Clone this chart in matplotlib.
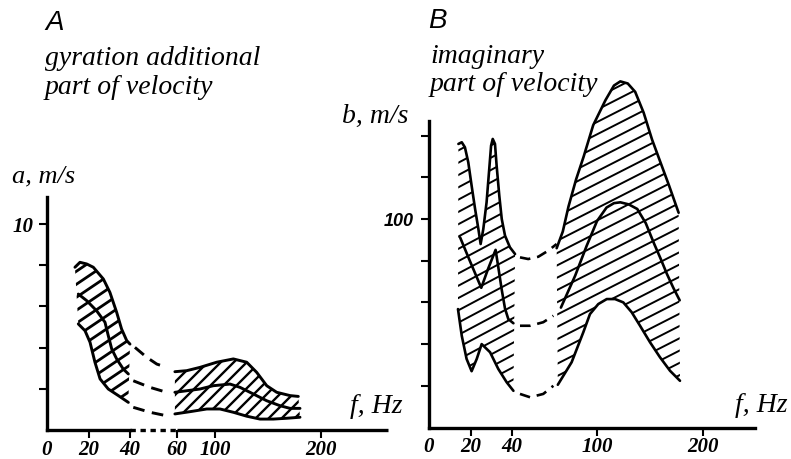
import numpy as np
import matplotlib
matplotlib.use("Agg")
import matplotlib.pyplot as plt
from matplotlib.collections import LineCollection

# ---------------- data (frequency f in Hz, velocity) ----------------
# Panel A: gyration additional part of velocity, a (m/s)
A_up_f = [13.3, 15.7, 18.9, 22.1, 27.0, 30.2, 33.5, 35.9, 38.4, 40.0]
A_up_v = [7.90, 8.14, 8.06, 7.90, 7.33, 6.68, 5.71, 4.90, 4.34, 4.17]
A_mid_f = [14.9, 18.9, 23.7, 27.8, 29.4, 31.1, 33.5, 36.7, 39.2]
A_mid_v = [6.60, 6.28, 5.79, 5.23, 4.58, 3.93, 3.45, 2.96, 2.72]
A_low_f = [14.9, 18.1, 20.5, 22.9, 25.4, 29.4, 34.3, 39.2]
A_low_v = [5.15, 4.82, 4.26, 3.29, 2.48, 1.99, 1.67, 1.34]

A_up_dash_f = [42.1, 47.1, 51.4, 55.6]
A_up_dash_v = [4.01, 3.53, 3.20, 3.04]
A_mid_dash_f = [41.4, 48.5, 55.6]
A_mid_dash_v = [2.39, 2.07, 1.83]
A_low_dash_f = [41.4, 48.5, 55.6]
A_low_dash_v = [1.10, 0.86, 0.69]

A_r_up_f = [59.1, 70.2, 84.2, 101.6, 117.3, 129.9, 139.3, 148.8, 158.2, 170.8, 178.6]
A_r_up_v = [2.83, 2.88, 3.04, 3.29, 3.45, 3.29, 2.80, 2.15, 1.83, 1.67, 1.63]
A_r_mid_f = [59.1, 84.2, 98.2, 114.2, 123.6, 136.1, 148.8, 161.3, 170.8, 180.2]
A_r_mid_v = [1.83, 1.99, 2.15, 2.23, 2.07, 1.75, 1.42, 1.18, 1.05, 1.05]
A_r_low_f = [59.1, 73.7, 91.3, 104.7, 117.3, 129.9, 142.5, 155.0, 167.6, 180.2]
A_r_low_v = [0.78, 0.89, 1.02, 1.02, 0.86, 0.67, 0.53, 0.53, 0.57, 0.62]

# Panel B: imaginary part of velocity, b (m/s)
B_top_f = [14.0, 15.6, 17.1, 18.7, 20.3, 22.0, 23.6, 24.7, 26.0, 27.6, 28.9, 29.8,
           30.6, 31.7, 32.5, 33.8, 35.0, 36.6, 39.0, 41.3]
B_top_v = [136.0, 136.8, 134.4, 127.2, 116.0, 104.8, 95.2, 88.0, 95.2, 108.0, 124.0,
           135.2, 138.4, 136.0, 125.6, 111.2, 100.0, 92.0, 86.4, 83.2]
B_mid_f = [14.8, 19.5, 25.0, 28.3, 32.0, 33.3, 35.0, 36.6, 38.2, 40.6]
B_mid_v = [91.2, 79.8, 67.0, 76.0, 85.2, 77.0, 66.0, 57.0, 52.0, 50.0]
B_bot_f = [13.8, 15.6, 17.9, 20.3, 22.8, 25.2, 29.3, 33.3, 37.4, 40.6]
B_bot_v = [56.8, 44.0, 32.9, 27.0, 32.9, 40.0, 36.1, 28.1, 21.7, 17.6]

B_top_dash_f = [43.4, 46.9, 51.2, 55.4, 59.0]
B_top_dash_v = [81.6, 80.8, 81.9, 84.8, 88.0]
B_mid_dash_f = [43.4, 47.7, 53.3, 57.6]
B_mid_dash_v = [48.8, 48.8, 50.5, 53.6]
B_bot_dash_f = [43.4, 47.7, 53.3, 57.6]
B_bot_dash_v = [16.1, 14.5, 16.1, 20.0]

B_r_top_f = [59.0, 64.0, 70.0, 78.0, 86.0, 96.0, 108.0, 116.0, 122.0, 129.0, 136.0,
             144.0, 152.0, 160.0, 168.0, 177.0]
B_r_top_v = [86.0, 94.0, 106.0, 119.0, 130.0, 145.0, 157.0, 164.0, 166.0, 165.0, 161.0,
             151.0, 138.0, 127.0, 116.0, 103.0]
B_r_mid_f = [62.0, 77.0, 89.0, 100.0, 109.0, 116.0, 122.0, 130.0, 138.0, 146.0, 154.0,
             160.0, 166.0, 172.0, 178.0]
B_r_mid_v = [57.5, 72.8, 87.0, 99.0, 105.5, 107.6, 108.0, 107.0, 104.8, 98.0, 88.0,
             81.0, 73.6, 67.0, 61.0]
B_r_bot_f = [59.5, 73.3, 85.6, 92.6, 101.2, 109.2, 117.0, 124.8, 132.7, 140.6, 150.0,
             159.4, 168.9, 178.3]
B_r_bot_v = [20.5, 31.3, 45.7, 54.4, 59.2, 61.6, 61.6, 60.0, 55.3, 48.8, 40.9, 33.7,
             27.2, 22.4]

A_xticks = [0, 20, 40, 60, 100, 200]
B_xticks = [0, 20, 40, 100, 200]
A_yticks = [2, 4, 6, 8, 10]
A_ylabels = ["", "", "", "", "10"]
B_yticks = [20, 40, 60, 80, 100, 120, 140]
B_ylabels = ["", "", "", "", "100", "", ""]

# ---------------- hand-drawn, piecewise frequency axis ----------------
F_KNOTS = [-100, 0, 20, 40, 60, 100, 200, 300, 1000]
P_KNOTS = [-210, 0, 42, 83, 130, 168, 274, 380, 1122]


def fwd(f):
    return np.interp(f, F_KNOTS, P_KNOTS)


def inv(p):
    return np.interp(p, P_KNOTS, F_KNOTS)


W, H = 791, 460
fig = plt.figure(figsize=(W / 100, H / 100), dpi=100)

SERIF = "Liberation Serif"
SANS = "Liberation Sans"
K = "black"


def px_axes(left, right, y0, top):
    return fig.add_axes([left / W, (H - y0) / H, (right - left) / W, (y0 - top) / H])


def hatch(ax, wpx, hpx, xs, ys, angle, vstep, lw):
    poly = ax.fill(xs, ys, facecolor="none", edgecolor="none", clip_on=False)[0]
    t = np.tan(np.radians(angle))
    cs = np.arange(-t * wpx - vstep, hpx + vstep, vstep)
    segs = [[(0, c / hpx), (1, (c + t * wpx) / hpx)] for c in cs]
    lc = LineCollection(segs, colors=K, linewidths=lw, transform=ax.transAxes,
                        capstyle="butt")
    lc.set_clip_path(poly)
    ax.add_collection(lc, autolim=False)


def curve(ax, f, v, lw, dashed=False):
    kw = dict(color=K, lw=lw, clip_on=False, solid_capstyle="round",
              solid_joinstyle="round")
    if dashed:
        kw.update(dashes=(4.0, 2.6), dash_capstyle="butt")
    ax.plot(f, v, **kw)


def style_axes(ax, xlim, ylim, xticks, yticks, ylabels, ylab_font, ylab_size, ylab_pad):
    ax.set_xscale("function", functions=(fwd, inv))
    ax.set_xlim(*xlim)
    ax.set_ylim(*ylim)
    ax.patch.set_visible(False)
    for s in ["top", "right"]:
        ax.spines[s].set_visible(False)
    ax.set_xticks(xticks)
    ax.set_xticklabels([str(t) for t in xticks], fontfamily=SERIF, fontstyle="italic",
                       fontweight="bold", fontsize=15)
    ax.set_yticks(yticks)
    ax.set_yticklabels(ylabels, fontfamily=ylab_font, fontstyle="italic",
                       fontweight="bold", fontsize=ylab_size)
    ax.tick_params(axis="x", direction="out", length=5.8, width=1.5, pad=0.5,
                   labelsize=15)
    ax.tick_params(axis="y", direction="out", length=5.8, width=1.5, pad=ylab_pad,
                   labelsize=ylab_size)
    ax.xaxis.get_major_ticks()[0].tick1line.set_visible(False)


# ---------------- Panel A ----------------
A_L, A_R, A_Y0, A_T = 47, 400, 431, 175
axA = px_axes(A_L, A_R, A_Y0, A_T)
A_ppu = 20.6
style_axes(axA, (0, inv(A_R - A_L)), (0, (A_Y0 - A_T) / A_ppu),
           A_xticks, A_yticks, A_ylabels, SERIF, 15, 4.0)
axA.spines["left"].set_linewidth(2.4)
axA.spines["left"].set_bounds(0, (A_Y0 - 198) / A_ppu)
axA.spines["bottom"].set_visible(False)
x_end_A = inv(388 - A_L)
axA.plot([0, 40], [0, 0], color=K, lw=2.4, clip_on=False, solid_capstyle="projecting")
axA.plot([40, 60], [0, 0], color=K, lw=2.4, clip_on=False, dashes=(1.6, 1.4))
axA.plot([60, x_end_A], [0, 0], color=K, lw=2.4, clip_on=False, solid_capstyle="butt")

hatch(axA, A_R - A_L, A_Y0 - A_T, A_up_f + A_low_f[::-1], A_up_v + A_low_v[::-1],
      34, 13.0, 2.0)
hatch(axA, A_R - A_L, A_Y0 - A_T, A_r_up_f + A_r_low_f[::-1],
      A_r_up_v + A_r_low_v[::-1], 45, 13.0, 1.7)
for f, v in [(A_up_f, A_up_v), (A_mid_f, A_mid_v), (A_low_f, A_low_v),
             (A_r_up_f, A_r_up_v), (A_r_mid_f, A_r_mid_v), (A_r_low_f, A_r_low_v)]:
    curve(axA, f, v, 2.1)
for f, v in [(A_up_dash_f, A_up_dash_v), (A_mid_dash_f, A_mid_dash_v),
             (A_low_dash_f, A_low_dash_v)]:
    curve(axA, f, v, 2.1, dashed=True)

# ---------------- Panel B ----------------
B_L, B_R, B_Y0, B_T = 429, 770, 428.5, 70
axB = px_axes(B_L, B_R, B_Y0, B_T)
B_ppu = 2.085
style_axes(axB, (0, inv(B_R - B_L)), (0, (B_Y0 - B_T) / B_ppu),
           B_xticks, B_yticks, B_ylabels, SANS, 13, 5.0)
axB.spines["left"].set_linewidth(2.4)
axB.spines["bottom"].set_linewidth(2.4)
axB.spines["left"].set_bounds(0, (B_Y0 - 122) / B_ppu)
axB.spines["bottom"].set_bounds(0, inv(755 - B_L))

hatch(axB, B_R - B_L, B_Y0 - B_T, B_top_f + B_bot_f[::-1], B_top_v + B_bot_v[::-1],
      28, 12.3, 1.4)
hatch(axB, B_R - B_L, B_Y0 - B_T, B_r_top_f + B_r_bot_f[::-1],
      B_r_top_v + B_r_bot_v[::-1], 27, 12.3, 1.4)
for f, v in [(B_top_f, B_top_v), (B_mid_f, B_mid_v), (B_bot_f, B_bot_v),
             (B_r_top_f, B_r_top_v), (B_r_mid_f, B_r_mid_v), (B_r_bot_f, B_r_bot_v)]:
    curve(axB, f, v, 1.9)
for f, v in [(B_top_dash_f, B_top_dash_v), (B_mid_dash_f, B_mid_dash_v),
             (B_bot_dash_f, B_bot_dash_v)]:
    curve(axB, f, v, 1.9, dashed=True)


# ---------------- texts ----------------
def ftext(x, y, s, family=SERIF, size=20, style="italic", weight="normal"):
    fig.text(x / W, 1 - y / H, s, fontfamily=family, fontsize=size, fontstyle=style,
             fontweight=weight, ha="left", va="baseline")


ftext(45, 30, "A", family=SANS, size=20)
ftext(45, 65, "gyration additional")
ftext(45, 94, "part of velocity")
ftext(12, 182, "a, m/s", size=19)
ftext(350, 413, "f, Hz")

ftext(428, 28, "B", family=SANS, size=20)
ftext(430, 63, "imaginary")
ftext(430, 91, "part of velocity")
ftext(342, 123, "b, m/s")
ftext(735, 412, "f, Hz")

fig.savefig("out.png", dpi=100)
